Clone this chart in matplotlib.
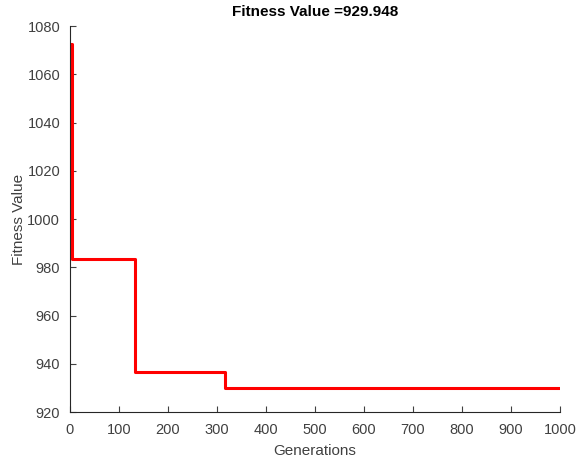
import numpy as np
import matplotlib
matplotlib.use('Agg')
import matplotlib.pyplot as plt

plt.rcParams['font.family'] = ['Liberation Sans', 'DejaVu Sans']

# 最优适应度变化点（代数, 适应度）
gens = [1, 5, 133, 316, 1000]
fitness = [1072.5, 983.6, 936.6, 929.948, 929.948]
best = 929.948

fig = plt.figure(figsize=(5.78, 4.58), dpi=100)
ax = fig.add_axes([0.121, 0.1004, 0.848, 0.8428])
ax.plot(gens, fitness, color='red', linewidth=2.2, drawstyle='steps-post')

ax.set_xlim(0, 1000)
ax.set_ylim(920, 1080)
ax.set_xticks(np.arange(0, 1001, 100))
ax.set_yticks(np.arange(920, 1081, 20))

grey = '#262626'
for s in ['top', 'right']:
    ax.spines[s].set_visible(False)
for s in ['left', 'bottom']:
    ax.spines[s].set_color(grey)
    ax.spines[s].set_linewidth(0.8)
ax.tick_params(direction='in', length=4, width=0.8, colors='#404040', labelsize=10.5)
ax.tick_params(axis='x', pad=8)
ax.tick_params(axis='y', pad=7)

ax.set_xlabel('Generations', fontsize=11, color='#404040', labelpad=5)
ax.set_ylabel('Fitness Value', fontsize=11, color='#404040', labelpad=1)
ax.set_title('Fitness Value =%.3f' % best, fontsize=11, fontweight='bold', pad=7)

fig.savefig('out.png', dpi=100)
